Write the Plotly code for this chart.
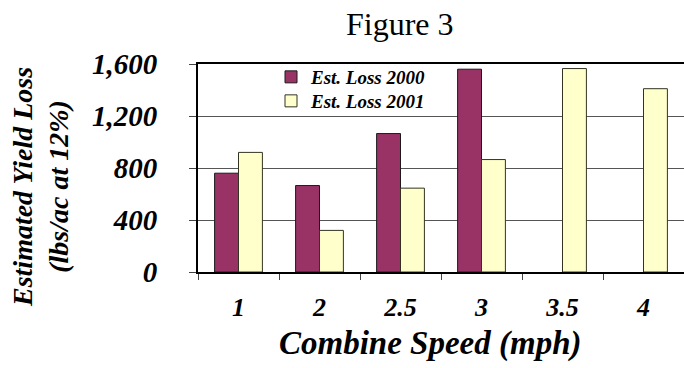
import plotly.graph_objects as go

speeds = ["1", "2", "2.5", "3", "3.5", "4"]
loss_2000 = [760, 665, 1065, 1560, None, None]
loss_2001 = [920, 320, 645, 865, 1565, 1410]
y_tickvals = [0, 400, 800, 1200, 1600]
y_ticktext = ["0", "400", "800", "1,200", "1,600"]

FONT = "Liberation Serif"
W, H = 684, 368
L, R, T, B = 198, 0, 64, 96

fig = go.Figure()
fig.add_trace(go.Bar(name="Est. Loss 2000", x=speeds, y=loss_2000, legend="legend",
                     marker=dict(color="#993366", line=dict(color="#1a1a1a", width=1))))
fig.add_trace(go.Bar(name="Est. Loss 2001", x=speeds, y=loss_2001, legend="legend2",
                     marker=dict(color="#FFFFCC", line=dict(color="#333322", width=1))))

pw = W - L - R
ph = H - T - B

def px_x(px):
    return (px - L) / pw

def px_y(py):
    return (H - B - py) / ph

legfont = dict(family=FONT, size=19, color="black", style="italic", weight="bold")

fig.update_layout(
    width=W, height=H,
    margin=dict(l=L, r=R, t=T, b=B, pad=0),
    paper_bgcolor="white", plot_bgcolor="white",
    barmode="group", bargap=0.41, bargroupgap=0,
    showlegend=True,
    legend=dict(x=px_x(271), y=px_y(77), xanchor="left", yanchor="middle",
                bgcolor="rgba(0,0,0,0)", borderwidth=0, font=legfont, itemwidth=30),
    legend2=dict(x=px_x(271), y=px_y(101), xanchor="left", yanchor="middle",
                 bgcolor="rgba(0,0,0,0)", borderwidth=0, font=legfont, itemwidth=30),
    shapes=[dict(type="rect", xref="paper", yref="paper", layer="between",
                 x0=px_x(284), x1=px_x(432), y0=px_y(118), y1=px_y(66),
                 fillcolor="white", line=dict(width=0))],
    font=dict(family=FONT, color="black"),
    xaxis=dict(type="category", range=[-0.5, 5.5], tickson="boundaries",
               ticks="outside", ticklen=6, tickcolor="#444", tickwidth=1,
               showline=True, linecolor="black", linewidth=2, mirror=True,
               showgrid=False, ticklabelstandoff=11,
               tickfont=dict(family=FONT, size=26, style="italic", weight="bold", color="black")),
    yaxis=dict(range=[0, 1600], tickvals=y_tickvals, ticktext=y_ticktext,
               ticks="outside", ticklen=7, tickcolor="#444", tickwidth=1,
               showline=True, linecolor="black", linewidth=2,
               showgrid=True, gridcolor="#555", gridwidth=1, zeroline=False,
               ticklabelstandoff=26,
               tickfont=dict(family=FONT, size=29, style="italic", weight="bold", color="black")),
    annotations=[
        dict(text="Figure 3", xref="paper", yref="paper", x=px_x(400), y=px_y(24),
             xanchor="center", yanchor="middle", showarrow=False,
             font=dict(family=FONT, size=32, color="black")),
        dict(text="Combine Speed (mph)", xref="paper", yref="paper", x=px_x(430), y=px_y(343),
             xanchor="center", yanchor="middle", showarrow=False,
             font=dict(family=FONT, size=33, style="italic", weight="bold", color="black")),
        dict(text="Estimated Yield Loss<br>(lbs/ac at 12%)", xref="paper", yref="paper",
             x=px_x(40), y=px_y(187), xanchor="center", yanchor="middle", showarrow=False,
             textangle=-90, align="center",
             font=dict(family=FONT, size=28, style="italic", weight="bold", color="black")),
    ],
)

fig.write_html("out.html")
